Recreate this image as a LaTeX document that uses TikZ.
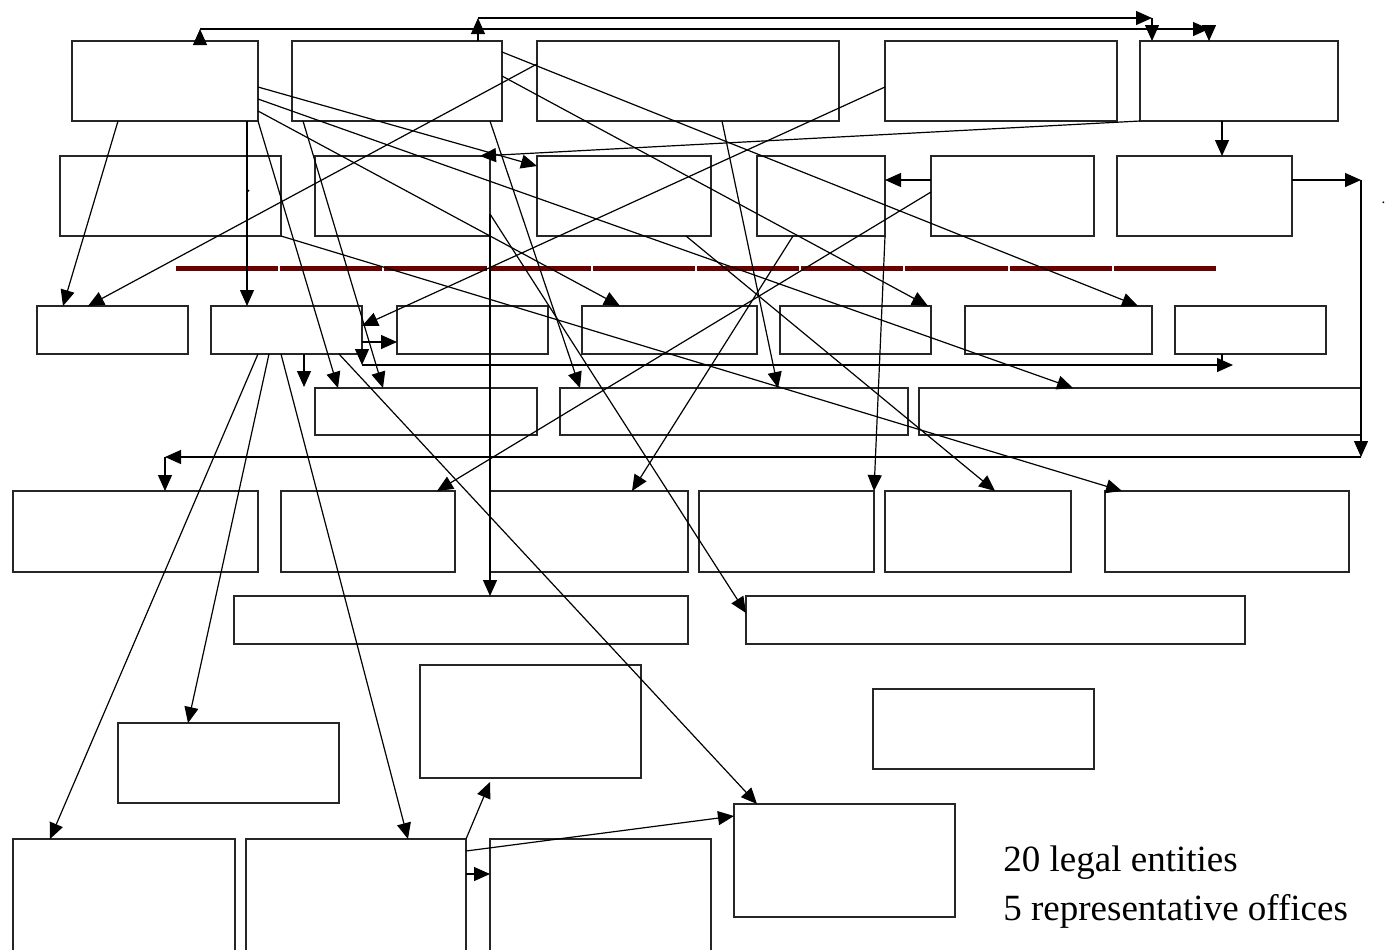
\documentclass[tikz,border=0pt]{standalone}
\usepackage{fontspec}
\setmainfont{Liberation Serif}
\usetikzlibrary{arrows.meta,calc}
\definecolor{barred}{RGB}{107,0,0}
\tikzset{
  box/.style={draw=black!85, line width=0.65pt, rectangle, inner sep=0pt, outer sep=0pt},
  conn/.style={draw=black, line width=0.6pt},
  arr/.style={conn, -{Triangle[length=8pt,width=7pt]}},
  lbl/.style={anchor=base west, inner sep=0pt, font=\fontsize{18.5}{22}\selectfont}
}
\newcommand{\bx}[5]{\node[box, minimum width={(#4-#2)*0.5pt}, minimum height={(#5-#3)*0.5pt}] (#1) at ({(#2+#4)/2},{(#3+#5)/2}) {};}
\begin{document}
\begin{tikzpicture}[x=0.5pt,y=-0.5pt]
\useasboundingbox (0,0) rectangle (1385,949);
\clip (0,0) rectangle (1385,949);
% boxes
\bx{A1}{72}{41}{258}{121}
\bx{A2}{292}{41}{502}{121}
\bx{A3}{537}{41}{839}{121}
\bx{A4}{885}{41}{1117}{121}
\bx{A5}{1140}{41}{1338}{121}
\bx{B1}{60}{156}{281}{236}
\bx{B2}{315}{156}{490}{236}
\bx{B3}{537}{156}{711}{236}
\bx{B4}{757}{156}{885}{236}
\bx{B5}{931}{156}{1094}{236}
\bx{B6}{1117}{156}{1292}{236}
\bx{C1}{37}{306}{188}{354}
\bx{C2}{211}{306}{362}{354}
\bx{C3}{397}{306}{548}{354}
\bx{C4}{582}{306}{757}{354}
\bx{C5}{780}{306}{931}{354}
\bx{C6}{965}{306}{1152}{354}
\bx{C7}{1175}{306}{1326}{354}
\bx{D1}{315}{388}{537}{435}
\bx{D2}{560}{388}{908}{435}
\bx{D3}{919}{388}{1361}{435}
\bx{E1}{13}{491}{258}{572}
\bx{E2}{281}{491}{455}{572}
\bx{E3}{490}{491}{688}{572}
\bx{E4}{699}{491}{874}{572}
\bx{E5}{885}{491}{1071}{572}
\bx{E6}{1105}{491}{1349}{572}
\bx{F1}{234}{596}{688}{644}
\bx{F2}{746}{596}{1245}{644}
\bx{G1}{420}{665}{641}{778}
\bx{G2}{873}{689}{1094}{769}
\bx{H1}{118}{723}{339}{803}
\bx{I1}{13}{839}{235}{965}
\bx{I2}{246}{839}{466}{965}
\bx{I3}{490}{839}{711}{965}
\bx{I4}{734}{804}{955}{917}
% dashed dark red bar
\foreach \i in {0,...,9} \fill[barred] ({176+104.2*\i},265.7) rectangle ({176+104.2*\i+102.2},270.7);
% free coordinates
\coordinate (t1) at (200,29);
\coordinate (t2) at (1209,29);
\coordinate (u1) at (478,18);
\coordinate (u2) at (1152,18);
\coordinate (r1) at (1361,180);
\coordinate (r2) at (1361,457);
\coordinate (r3) at (165,457);
\coordinate (s1) at (362,365);
\coordinate (s2) at (1233,365);
\coordinate (s3) at (304,387);
% top routes
\draw[arr] ($(A1.north west)+(128,2)$) -- (t1);
\draw[arr] (t1) -- (t2);
\draw[arr] (t2) -- ($(A5.north west)+(69,0)$);
\draw[arr] ($(A2.north west)+(186,0)$) -- (u1);
\draw[arr] (u1) -- (u2);
\draw[arr] (u2) -- ($(A5.north west)+(12,0)$);
% from A1
\draw[arr] ($(A1.south west)+(46,0)$) -- ($(C1.north west)+(26,0)$);
\draw[arr] ($(A1.south west)+(175,0)$) -- ($(C2.north west)+(36,0)$);
\draw[arr] (A1.south east) -- ($(D1.north west)+(23,0)$);
\draw[arr] ($(A1.north east)+(0,46)$) -- ($(B3.north west)+(0,10)$);
\draw[arr] ($(A1.north east)+(0,58)$) -- ($(D3.north west)+(154,0)$);
\draw[arr] ($(A1.north east)+(0,70)$) -- ($(C4.north west)+(38,0)$);
% from A2
\draw[arr] ($(A2.south west)+(11,0)$) -- ($(D1.north west)+(68,0)$);
\draw[arr] ($(A2.south west)+(198,0)$) -- ($(D2.north west)+(20,0)$);
\draw[arr] ($(A2.north east)+(0,11)$) -- ($(C6.north west)+(173,0)$);
\draw[arr] ($(A2.north east)+(0,35)$) -- ($(C5.north east)+(-3,0)$);
% from A3, A4, A5
\draw[arr] ($(A3.north west)+(0,23)$) -- ($(C1.north west)+(51,0)$);
\draw[arr] ($(A3.south west)+(185,0)$) -- ($(D2.north west)+(218,0)$);
\draw[arr] ($(A4.north west)+(0,46)$) -- ($(C2.north east)+(0,20)$);
\draw[arr] (A5.south west) -- ($(B2.north east)+(-10,0)$);
\draw[arr] ($(A5.south west)+(82,0)$) -- ($(B6.north west)+(105,0)$);
% from row B
\draw[arr] ($(B5.north west)+(0,24)$) -- ($(B4.north east)+(0,24)$);
\draw[arr] ($(B5.north west)+(0,36)$) -- ($(E2.north west)+(156,0)$);
\draw[arr] ($(B4.south west)+(36,0)$) -- ($(E3.north west)+(142,0)$);
\draw[arr] (B4.south east) -- (E4.north east);
\draw[arr] ($(B3.south west)+(149,0)$) -- ($(E5.north west)+(110,0)$);
\draw[arr] (B1.south east) -- ($(E6.north west)+(17,0)$);
\draw[arr] ($(B2.north east)+(0,58)$) -- ($(F1.north west)+(256,0)$);
\draw[arr] ($(B2.north east)+(0,58)$) -- ($(F2.north west)+(0,17)$);
\draw[arr] ($(B6.north east)+(0,24)$) -- (r1);
\draw[arr] (r1) -- (r2);
\draw[arr] (r2) -- (r3);
\draw[arr] (r3) -- ($(E1.north west)+(152,0)$);
% from C2
\draw[arr] ($(C2.north east)+(0,36)$) -- ($(C3.north west)+(0,36)$);
\draw[arr] (C2.south east) -- (s1);
\draw[arr] (s1) -- (s2);
\draw[conn] ($(C7.south west)+(47,0)$) -- ++(0,14);
\draw[arr] ($(C2.south west)+(93,0)$) -- (s3);
\draw[arr] ($(C2.south west)+(47,0)$) -- ($(I1.north west)+(37,0)$);
\draw[arr] ($(C2.south west)+(58,0)$) -- ($(H1.north west)+(70,0)$);
\draw[arr] ($(C2.south west)+(70,0)$) -- ($(I2.north west)+(162,0)$);
\draw[arr] ($(C2.south west)+(128,0)$) -- ($(I4.north west)+(23,0)$);
% from I2
\draw[arr] (I2.north east) -- ($(G1.south west)+(70,4)$);
\draw[arr] ($(I2.north east)+(0,12)$) -- ($(I4.north west)+(0,12)$);
\draw[arr] ($(I2.north east)+(0,35)$) -- ($(I3.north west)+(0,35)$);
% small marks
\fill (248.3,190.7) circle[radius=0.6pt];
\fill (1383.3,202.3) circle[radius=0.5pt];
% legend text
\node[lbl] (n1) at (1003,871) {20 legal entities};
\node[lbl] (n2) at (1003,920) {5 representative offices};
\end{tikzpicture}
\end{document}
